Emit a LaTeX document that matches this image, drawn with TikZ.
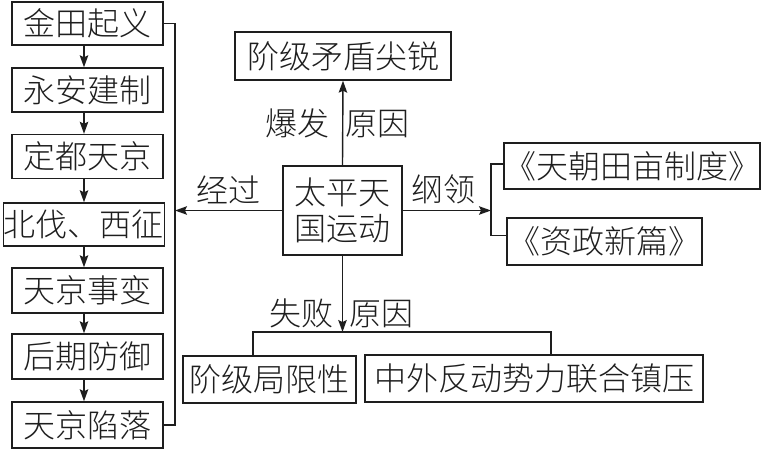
\documentclass[tikz,border=0pt]{standalone}
\usepackage{fontspec}
\setmainfont{Noto Sans CJK SC}[UprightFont=* Light]
\usetikzlibrary{arrows.meta}
\definecolor{ink}{HTML}{1E1E1E}
\tikzset{
  cjk/.style={font=\fontsize{32}{35.5}\selectfont, text=ink},
  box/.style={cjk, draw=ink, line width=1.4pt, inner sep=0pt, text height=26.5pt, text depth=2.3pt},
  lbl/.style={cjk, inner sep=0pt, text height=26.5pt, text depth=2.3pt},
  ln/.style={draw=ink, line width=1.4pt},
  arr/.style={ln, -{Stealth[length=12pt,width=8.5pt,inset=2pt]}}
}
\begin{document}
\begin{tikzpicture}[x=1pt,y=-1pt]
\useasboundingbox (0,0) rectangle (761,452);
% left column
\node[box, minimum width=151pt, minimum height=43pt] (b1) at (87.5,23.5) {金田起义};
\node[box, minimum width=151pt, minimum height=44pt] (b2) at (87.5,90) {永安建制};
\node[box, minimum width=151pt, minimum height=44pt] (b3) at (87.5,156.5) {定都天京};
\node[box, minimum width=161pt, minimum height=43pt] (b4) at (84,224.5) {北伐、西征};
\node[box, minimum width=151pt, minimum height=45pt] (b5) at (87.5,290.5) {天京事变};
\node[box, minimum width=151pt, minimum height=45pt] (b6) at (87.5,356.5) {后期防御};
\node[box, minimum width=151pt, minimum height=46pt] (b7) at (87.5,425) {天京陷落};
\foreach \a/\b in {b1/b2,b2/b3,b3/b4,b4/b5,b5/b6,b6/b7}
  \draw[arr] (\a.south -| b4.center) -- (\b.north -| b4.center);
% centre
\node[box, align=center, minimum width=119pt, minimum height=89pt, text height=, text depth=] (mid) at (342.5,210.5) {太平天\\国运动};
\node[box, minimum width=216pt, minimum height=48pt] (top) at (343,56) {阶级矛盾尖锐};
\node[box, minimum width=250pt, minimum height=46pt] (ra) at (632,166) {《天朝田亩制度》};
\node[box, minimum width=195pt, minimum height=47pt] (rb) at (604.5,241.5) {《资政新篇》};
\node[box, minimum width=173pt, minimum height=47pt] (ca) at (269.5,379.5) {阶级局限性};
\node[box, minimum width=338pt, minimum height=47pt] (cd) at (534,378.5) {中外反动势力联合镇压};
% labels
\node[lbl] (l1) at (228,190) {经过};
\node[lbl] (l2) at (297,123) {爆发};
\node[lbl] (l3) at (377,123) {原因};
\node[lbl] (l4) at (443,189) {纲领};
\node[lbl] (l5) at (301,313) {失败};
\node[lbl] (l6) at (381,313) {原因};
% connectors
\coordinate (L) at (175,0);
\draw[ln] (b1.east) -- (b1.east -| L) -- (b7.east -| L) -- (b7.east);
\draw[arr] (mid.west) -- (mid.west -| L);
\draw[arr] (mid.north) -- (top.south);
\coordinate (R) at (491,0);
\draw[arr] (mid.east) -- (mid.east -| R);
\draw[ln] ([yshift=2pt]ra.west) -- ([yshift=2pt]ra.west -| R) -- ([yshift=6pt]rb.west -| R) -- ([yshift=6pt]rb.west);
\coordinate (bl) at (253,332);
\coordinate (br) at (551,332);
\draw[arr] (mid.south) -- (mid.south |- bl);
\draw[ln] (bl |- ca.north) -- (bl) -- (br) -- (br |- cd.north);
\end{tikzpicture}
\end{document}
